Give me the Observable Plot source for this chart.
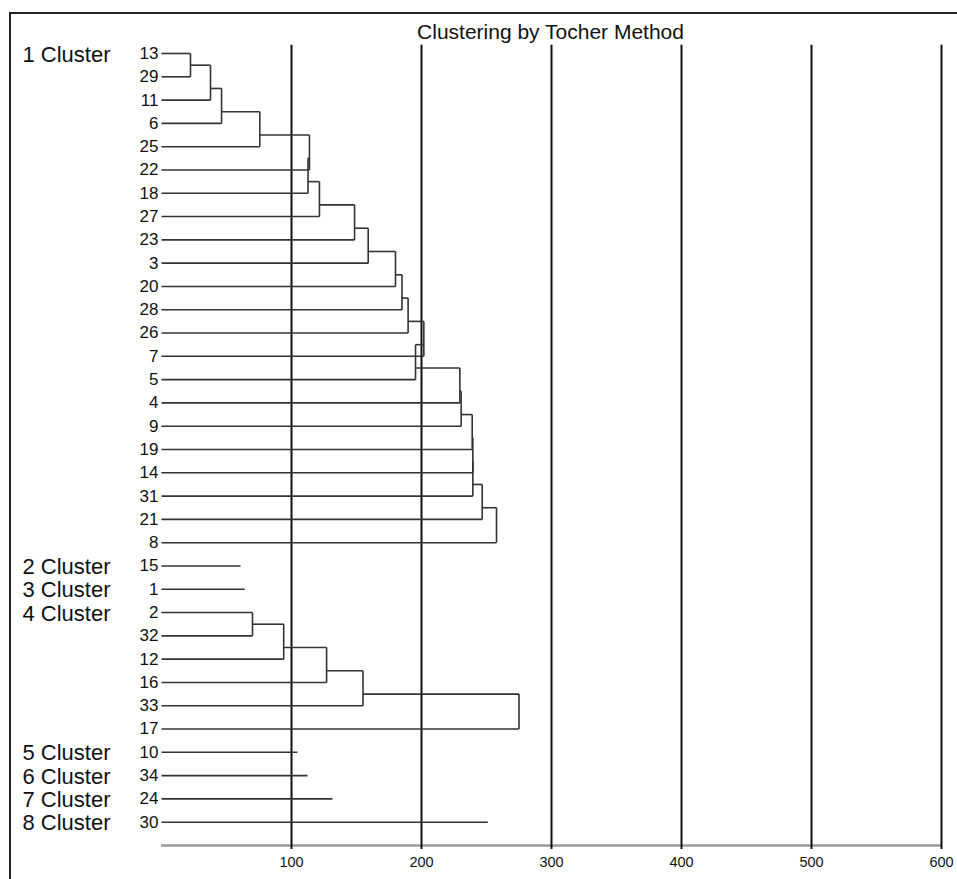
<!DOCTYPE html>
<html>
<head>
<meta charset="utf-8">
<script src="https://cdn.jsdelivr.net/npm/d3@7"></script>
<script src="https://cdn.jsdelivr.net/npm/@observablehq/plot@0.6"></script>
<style>
  html, body { margin: 0; padding: 0; background: #fff; }
  #wrap { position: relative; width: 957px; height: 879px; overflow: hidden; }
  #wrap::after { content: ""; position: absolute; left: 9px; top: 12px; right: -4px; bottom: -4px;
    border-left: 2px solid #222; border-top: 2px solid #222; pointer-events: none; }
  svg { display: block; }
</style>
</head>
<body>
<div id="wrap"></div>
<script>
const chartTitle = "Clustering by Tocher Method";
const clusterNames = ["1 Cluster", "2 Cluster", "3 Cluster", "4 Cluster", "5 Cluster", "6 Cluster", "7 Cluster", "8 Cluster"];
const clusterMembers = [
  ["13", "29", "11", "6", "25", "22", "18", "27", "23", "3", "20", "28", "26", "7", "5", "4", "9", "19", "14", "31", "21", "8"],
  ["15"],
  ["1"],
  ["2", "32", "12", "16", "33", "17"],
  ["10"],
  ["34"],
  ["24"],
  ["30"]
];
// fusion level at which each successive member joins its cluster (singletons: line length)
const cluster1Levels = [22.3, 37.7, 46.2, 75.6, 113.8, 112.7, 121.5, 148.5, 159, 180, 185, 189.7, 201.8, 195.4, 229.5, 230.5, 239, 239.5, 239.5, 246.7, 257.7];
const cluster2Levels = [60.8];
const cluster3Levels = [64];
const cluster4Levels = [70, 94, 127, 155, 275];
const cluster5Levels = [104.6];
const cluster6Levels = [112.3];
const cluster7Levels = [131.5];
const cluster8Levels = [251];
const axisTicks = [100, 200, 300, 400, 500, 600];

const allLevels = [cluster1Levels, cluster2Levels, cluster3Levels, cluster4Levels,
  cluster5Levels, cluster6Levels, cluster7Levels, cluster8Levels];

const leaves = [];
const clusterLabels = [];
const segs = [];
let row = 0;
clusterMembers.forEach((members, ci) => {
  const L = allLevels[ci];
  clusterLabels.push({label: clusterNames[ci], row});
  members.forEach((m, i) => leaves.push({label: m, row: row + i}));
  if (members.length === 1) {
    segs.push({x1: 0, x2: L[0], y1: row, y2: row});
  } else {
    const r0 = row, r1 = row + 1;
    segs.push({x1: 0, x2: L[0], y1: r0, y2: r0});
    segs.push({x1: 0, x2: L[0], y1: r1, y2: r1});
    segs.push({x1: L[0], x2: L[0], y1: r0, y2: r1});
    let nodeY = (r0 + r1) / 2, nodeX = L[0];
    for (let i = 2; i < members.length; i++) {
      const ri = row + i, h = L[i - 1];
      segs.push({x1: nodeX, x2: h, y1: nodeY, y2: nodeY});
      segs.push({x1: 0, x2: h, y1: ri, y2: ri});
      segs.push({x1: h, x2: h, y1: nodeY, y2: ri});
      nodeY = (nodeY + 2 * ri) / 3;
      nodeX = h;
    }
  }
  row += members.length;
});
const axisRow = row; // baseline row below the last leaf

const font = "'Liberation Sans', Arial, Helvetica, sans-serif";

const chart = Plot.plot({
  width: 957,
  height: 879,
  marginLeft: 0, marginRight: 0, marginTop: 0, marginBottom: 0,
  style: {fontFamily: font, background: "#fff"},
  x: {domain: [0, 600], range: [161, 941], axis: null},
  y: {domain: [0, axisRow], range: [53, 845], axis: null},
  marks: [
    Plot.ruleY([axisRow], {x1: 0, x2: 600, stroke: "#9a9a9a", strokeWidth: 2.5}),
    Plot.ruleX(axisTicks, {y1: -0.35, y2: axisRow + 0.17, stroke: "#111", strokeWidth: 2}),
    Plot.link(segs, {x1: "x1", y1: "y1", x2: "x2", y2: "y2", stroke: "#333", strokeWidth: 1.6}),
    Plot.text(leaves, {x: () => 0, y: "row", text: "label", textAnchor: "end", dx: -3,
      fontSize: 17, fill: "#111"}),
    Plot.text(clusterLabels, {frameAnchor: "left", y: "row", text: "label", textAnchor: "start",
      dx: 22, dy: 1, fontSize: 22, fill: "#111"}),
    Plot.text(axisTicks, {x: d => d, y: () => axisRow, text: d => String(d), dy: 17,
      fontSize: 14.5, fill: "#111"}),
    Plot.text([chartTitle], {frameAnchor: "top-left", dx: 550, dy: 32, textAnchor: "middle",
      lineAnchor: "middle", fontSize: 21, fill: "#111"})
  ]
});
document.getElementById("wrap").appendChild(chart);
</script>
</body>
</html>
